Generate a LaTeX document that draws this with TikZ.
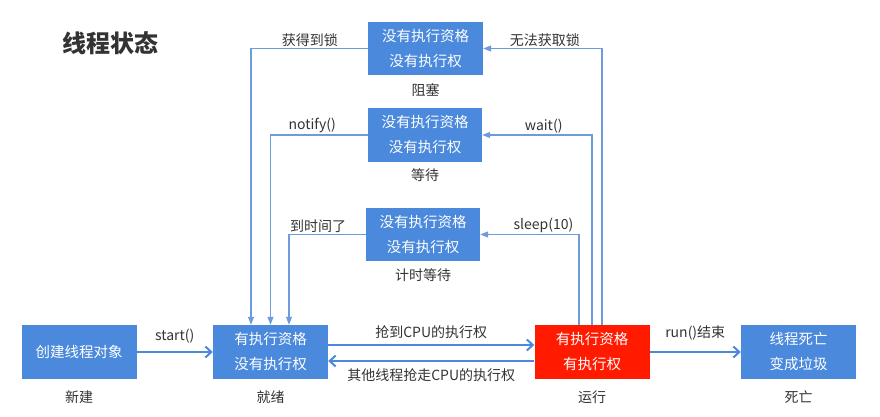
\documentclass[tikz,border=0pt]{standalone}
\usepackage{fontspec}
\setmainfont{Noto Sans CJK SC}
\usetikzlibrary{positioning,arrows.meta}

\definecolor{boxblue}{HTML}{4A89DC}
\definecolor{lineblue}{HTML}{6E9BDD}
\definecolor{runred}{HTML}{FF1A00}
\definecolor{txtgray}{HTML}{333333}

\tikzset{
  state/.style={fill=boxblue, text=white, minimum width=115pt, minimum height=54pt,
    inner sep=0pt, align=center, font=\fontsize{14.5}{25}\selectfont},
  statename/.style={text=txtgray, font=\fontsize{14}{16}\selectfont, inner sep=0pt},
  edgetext/.style={text=txtgray, font=\fontsize{14}{16}\selectfont, inner sep=1.5pt},
  mainarrow/.style={draw=boxblue, line width=2.4pt, -{Straight Barb[length=6pt,width=11pt,line width=2pt]}},
  backarrow/.style={draw=lineblue, line width=1.2pt, -{Triangle[length=8pt,width=6pt]}}
}

\begin{document}
\begin{tikzpicture}[x=1pt, y=-1pt]
            \useasboundingbox (0,0) rectangle (880,417);
            % title
            \node[text=txtgray, font=\fontsize{24}{28}\selectfont\bfseries] (title) at (110,43) {线程状态};
            % states
            \node[state] (new) at (79,352) {创建线程对象};
            \node[state] (ready) at (270.5,352) {有执行资格\\没有执行权};
            \node[state, fill=runred] (run) at (592,352) {有执行资格\\有执行权};
            \node[state] (dead) at (798.5,352) {线程死亡\\变成垃圾};
            \node[state, minimum height=53pt] (blocked) at (425.5,48.5) {没有执行资格\\没有执行权};
            \node[state, minimum width=114pt] (waiting) at (425,135) {没有执行资格\\没有执行权};
            \node[state, minimum width=114pt, minimum height=53pt] (timed) at (423,234.5) {没有执行资格\\没有执行权};
            % state names
            \node[statename, below=11pt of new] (newname) {新建};
            \node[statename, below=11pt of ready] (readyname) {就绪};
            \node[statename, below=11pt of run] (runname) {运行};
            \node[statename, below=11pt of dead] (deadname) {死亡};
            \node[statename, below=8pt of blocked] (blockedname) {阻塞};
            \node[statename, below=6pt of waiting] (waitingname) {等待};
            \node[statename, below=7pt of timed] (timedname) {计时等待};
            % main line
            \draw[mainarrow] (new) -- node[edgetext, above=6pt] {start()} (ready);
            \draw[mainarrow] ([yshift=7pt]ready.east) -- node[edgetext, above=4pt] {抢到CPU的执行权} ([yshift=7pt]run.west);
            \draw[mainarrow] ([yshift=-9pt]run.west) -- node[edgetext, below=5pt] {其他线程抢走CPU的执行权} ([yshift=-9pt]ready.east);
            \draw[mainarrow] (run) -- node[edgetext, above=9pt] {run()结束} (dead);
            % from running upwards
            \draw[backarrow] ([xshift=10pt]run.north) |- node[edgetext, above, pos=0.74] {无法获取锁} (blocked.east);
            \draw[backarrow] (run.north) |- node[edgetext, above, pos=0.72] {wait()} (waiting.east);
            \draw[backarrow] ([xshift=-13pt]run.north) |- node[edgetext, above, pos=0.68] {sleep(10)} (timed.east);
            % back to ready
            \draw[backarrow] (blocked.west) -| node[edgetext, above, pos=0.248] {获得到锁} ([xshift=-19.5pt]ready.north);
            \draw[backarrow] (waiting.west) -| node[edgetext, above, pos=0.286] {notify()} (ready.north);
            \draw[backarrow] (timed.west) -| node[edgetext, above, pos=0.31] {到时间了} ([xshift=18.5pt]ready.north);
          \end{tikzpicture}
\end{document}
